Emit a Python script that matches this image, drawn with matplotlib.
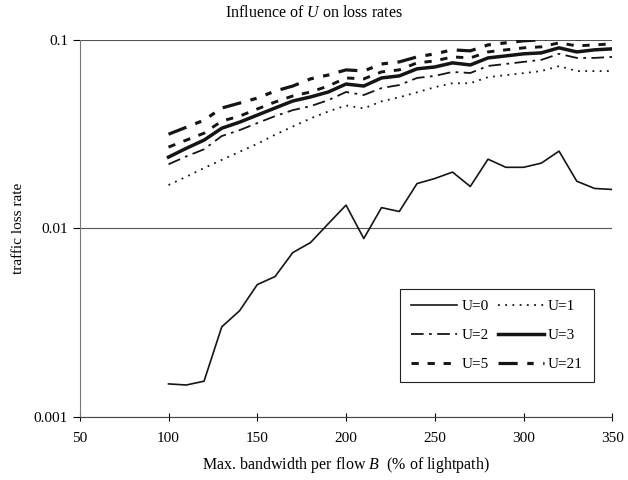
import matplotlib
matplotlib.use("Agg")
import matplotlib.pyplot as plt

plt.rcParams['font.family'] = ['Liberation Serif', 'DejaVu Serif']
plt.rcParams['mathtext.fontset'] = 'custom'
plt.rcParams['mathtext.rm'] = 'Liberation Serif'
plt.rcParams['mathtext.it'] = 'Liberation Serif:italic'

# bandwidth values (% of lightpath)
bw = [100, 110, 120, 130, 140, 150, 160, 170, 180, 190, 200, 210, 220,
      230, 240, 250, 260, 270, 280, 290, 300, 310, 320, 330, 340, 350]

u0 = [0.00150, 0.00148, 0.00155, 0.00301, 0.00366, 0.00504, 0.00556, 0.00745,
      0.00842, 0.0106, 0.0133, 0.00885, 0.0129, 0.0123, 0.0173, 0.0184,
      0.0199, 0.0167, 0.0233, 0.0211, 0.0211, 0.0222, 0.0257, 0.0178,
      0.0163, 0.0161]
u1 = [0.0170, 0.0188, 0.0209, 0.0231, 0.0255, 0.0281, 0.0314, 0.0347,
      0.0383, 0.0417, 0.0449, 0.0433, 0.0472, 0.0496, 0.0527, 0.0561,
      0.0589, 0.0589, 0.0634, 0.0650, 0.0666, 0.0683, 0.0726, 0.0683,
      0.0683, 0.0683]
u2 = [0.0219, 0.0241, 0.0263, 0.0309, 0.0332, 0.0362, 0.0394, 0.0424,
      0.0445, 0.0479, 0.0529, 0.0510, 0.0555, 0.0576, 0.0628, 0.0644,
      0.0676, 0.0667, 0.0727, 0.0745, 0.0764, 0.0783, 0.0843, 0.0802,
      0.0802, 0.0812]
u3 = [0.0239, 0.0266, 0.0294, 0.0340, 0.0366, 0.0399, 0.0435, 0.0474,
      0.0498, 0.0529, 0.0583, 0.0569, 0.0628, 0.0644, 0.0702, 0.0718,
      0.0755, 0.0736, 0.0802, 0.0822, 0.0843, 0.0853, 0.0907, 0.0863,
      0.0885, 0.0896]
u5 = [0.0270, 0.0294, 0.0320, 0.0371, 0.0394, 0.0430, 0.0468, 0.0504,
      0.0529, 0.0569, 0.0628, 0.0621, 0.0676, 0.0693, 0.0755, 0.0773,
      0.0812, 0.0802, 0.0863, 0.0885, 0.0907, 0.0918, 0.0964, 0.0929,
      0.0940, 0.0952]
u21 = [0.0316, 0.0344, 0.0375, 0.0435, 0.0462, 0.0491, 0.0535, 0.0569,
       0.0621, 0.0651, 0.0693, 0.0684, 0.0745, 0.0764, 0.0812, 0.0843,
       0.0885, 0.0874, 0.0940, 0.0964, 0.0988, 0.1000, 0.1050, 0.1012,
       0.1025, 0.1038]

ink = '#151515'

fig = plt.figure(figsize=(6.28, 4.8), dpi=100)
ax = fig.add_axes([0.127, 0.131, 0.848, 0.786])

l0, = ax.plot(bw, u0, color=ink, lw=1.2, ls='-', label='U=0')
l1, = ax.plot(bw, u1, color=ink, lw=1.3, ls=(0, (1, 3)), label='U=1')
l2, = ax.plot(bw, u2, color=ink, lw=1.3, ls=(0, (7, 3, 1.5, 3)), label='U=2')
l3, = ax.plot(bw, u3, color=ink, lw=2.5, ls='-', label='U=3')
l5, = ax.plot(bw, u5, color=ink, lw=2.1, ls=(0, (2.5, 3)), label='U=5')
l21, = ax.plot(bw, u21, color=ink, lw=2.3, ls=(0, (6, 3, 2, 3, 2, 3)), label='U=21')

ax.set_yscale('log')
ax.set_xlim(50, 350)
ax.set_ylim(0.001, 0.1)
ax.set_xticks([50, 100, 150, 200, 250, 300, 350])
ax.set_yticks([0.001, 0.01, 0.1])
ax.set_yticklabels(['0.001', '0.01', '0.1'])
ax.minorticks_off()
ax.tick_params(axis='x', direction='inout', length=6, width=0.8, labelsize=11, pad=8)
ax.tick_params(axis='y', direction='out', length=5, width=0.8, labelsize=11)

ax.yaxis.grid(True, color='#555555', lw=0.8)
ax.set_axisbelow(True)
for s in ['top', 'right']:
    ax.spines[s].set_visible(False)
ax.spines['left'].set_color('#777777')
ax.spines['bottom'].set_color('#444444')

fig.text(0.5, 1 - 13 / 480, 'Influence of $U$ on loss rates', fontsize=11.5,
         ha='center', va='center')
ax.set_xlabel('Max. bandwidth per flow $B$  (% of lightpath)', fontsize=11.5, labelpad=7)
ax.set_ylabel('traffic loss rate', fontsize=11, labelpad=6)

leg = ax.legend([l0, l2, l5, l1, l3, l21], ['U=0', 'U=2', 'U=5', 'U=1', 'U=3', 'U=21'],
                ncol=2, loc='lower right', bbox_to_anchor=(0.965, 0.093),
                borderaxespad=0, fontsize=11, handlelength=3.0, handletextpad=0.3,
                columnspacing=0.6, labelspacing=1.0, borderpad=0.7,
                fancybox=False, framealpha=1, edgecolor='#222222')
leg.get_frame().set_linewidth(0.8)

fig.savefig('out.png', dpi=100)
